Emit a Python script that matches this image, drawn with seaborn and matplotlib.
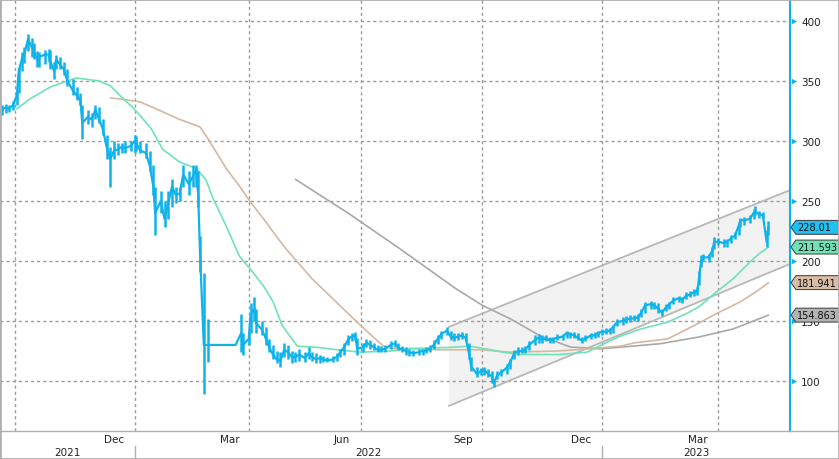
import matplotlib
matplotlib.use("Agg")
import matplotlib.pyplot as plt
import matplotlib.transforms as mtransforms
from matplotlib.patches import Polygon, Rectangle
from matplotlib.lines import Line2D
import seaborn as sns

# ---------------- data ----------------
# x axis = trading session number
session = [1, 3, 5, 7, 9, 10, 12, 13, 15, 17,
           18, 20, 21, 24, 26, 27, 29, 30, 32, 34,
           36, 39, 41, 43, 44, 47, 49, 51, 53, 55,
           57, 59, 61, 63, 65, 67, 70, 72, 73, 75,
           78, 80, 82, 83, 86, 88, 90, 92, 94, 96,
           98, 101, 103, 105, 106, 107, 109, 111, 115, 120,
           126, 129, 130, 133, 134, 136, 137, 140, 142, 144,
           146, 148, 150, 152, 154, 156, 158, 160, 163, 165,
           167, 169, 171, 173, 175, 178, 180, 182, 184, 186,
           188, 190, 191, 194, 196, 198, 200, 202, 204, 206,
           209, 211, 213, 215, 217, 219, 221, 224, 226, 228,
           230, 232, 234, 236, 239, 241, 243, 245, 247, 249,
           251, 252, 255, 257, 259, 261, 263, 264, 266, 268,
           271, 273, 275, 277, 279, 281, 283, 286, 288, 290,
           292, 294, 296, 298, 301, 303, 305, 307, 309, 311,
           313, 316, 318, 320, 322, 324, 326, 328, 330, 333,
           335, 337, 339, 341, 343, 345, 348, 350, 352, 354,
           356, 358, 360, 363, 365, 367, 369, 371, 373, 374,
           375, 376, 379, 381, 382, 384, 387, 389, 391, 393,
           395, 396, 398, 401, 403, 404, 406, 408, 410, 411]
close = [326, 328, 327, 330, 338, 358, 370, 372, 385, 378,
         375, 368, 370, 372, 372, 366, 358, 368, 364, 360,
         350, 342, 338, 334, 315, 320, 318, 326, 318, 310,
         295, 285, 292, 293, 295, 294, 296, 300, 298, 292,
         290, 280, 262, 240, 250, 235, 248, 262, 255, 256,
         272, 264, 270, 276, 255, 205, 130, 130, 130, 130,
         130, 140, 130, 135, 155, 160, 148, 143, 136, 128,
         122, 118, 117, 126, 124, 120, 120, 122, 119, 123,
         120, 118, 119, 118, 117, 118, 120, 124, 128, 134,
         137, 138, 127, 128, 132, 130, 128, 126, 126, 127,
         130, 131, 128, 126, 125, 124, 123, 124, 125, 125,
         127, 130, 135, 139, 142, 137, 136, 137, 138, 136,
         122, 112, 106, 108, 109, 106, 104, 98, 105, 107,
         111, 116, 123, 125, 125, 126, 130, 134, 136, 135,
         135, 134, 135, 136, 137, 140, 139, 138, 136, 134,
         135, 138, 138, 140, 141, 141, 142, 145, 149, 150,
         151, 152, 152, 153, 157, 163, 164, 163, 160, 157,
         161, 164, 167, 169, 168, 171, 172, 174, 175, 188,
         200, 203, 203, 209, 216, 216, 215, 216, 219, 221,
         229, 234, 234, 235, 240, 241, 239, 238, 216, 228]
high = [330, 331, 330, 333, 342, 362, 374, 378, 389, 386,
        382, 375, 374, 376, 377, 376, 366, 372, 370, 366,
        360, 352, 345, 340, 330, 326, 323, 330, 328, 318,
        305, 295, 300, 298, 298, 300, 300, 305, 304, 300,
        298, 292, 280, 262, 258, 250, 258, 268, 262, 262,
        280, 275, 280, 280, 275, 221, 190, 152, 130, 130,
        130, 156, 140, 140, 165, 170, 160, 150, 145, 135,
        130, 125, 124, 132, 130, 125, 124, 127, 124, 128,
        124, 123, 122, 121, 120, 121, 123, 127, 132, 138,
        140, 141, 136, 132, 135, 134, 132, 130, 129, 130,
        133, 134, 132, 129, 128, 127, 126, 127, 127, 128,
        130, 134, 138, 142, 145, 142, 140, 140, 141, 140,
        132, 120, 112, 111, 112, 110, 108, 102, 108, 110,
        114, 118, 126, 128, 128, 129, 133, 138, 139, 138,
        138, 137, 137, 139, 139, 142, 141, 141, 140, 137,
        138, 140, 141, 142, 143, 144, 144, 147, 152, 153,
        154, 155, 155, 156, 160, 166, 167, 166, 165, 160,
        164, 166, 170, 171, 170, 174, 175, 177, 178, 192,
        205, 206, 206, 212, 220, 219, 218, 218, 222, 224,
        232, 236, 237, 238, 243, 246, 242, 241, 226, 233]
low = [322, 323, 324, 326, 330, 340, 358, 365, 375, 370,
       368, 362, 362, 364, 366, 360, 352, 360, 360, 355,
       346, 338, 334, 330, 302, 314, 312, 318, 315, 305,
       285, 262, 285, 288, 290, 290, 292, 290, 292, 290,
       286, 275, 255, 222, 240, 228, 235, 245, 248, 250,
       262, 255, 262, 262, 245, 191, 89, 116, 130, 130,
       130, 124, 122, 130, 140, 150, 140, 138, 130, 124,
       118, 115, 112, 120, 118, 115, 116, 117, 116, 118,
       117, 115, 115, 116, 116, 116, 117, 120, 122, 130,
       133, 134, 122, 124, 128, 127, 126, 124, 124, 124,
       127, 128, 126, 124, 122, 121, 121, 122, 122, 123,
       124, 127, 131, 135, 138, 134, 133, 134, 135, 133,
       118, 108, 103, 105, 105, 103, 98, 95, 102, 104,
       106, 110, 118, 122, 123, 123, 126, 130, 132, 132,
       133, 132, 132, 134, 134, 136, 136, 136, 134, 132,
       133, 135, 136, 137, 138, 139, 139, 140, 146, 147,
       148, 149, 150, 150, 153, 157, 160, 160, 157, 154,
       158, 160, 164, 166, 165, 168, 170, 171, 172, 180,
       195, 200, 199, 203, 210, 213, 212, 212, 215, 218,
       222, 228, 230, 232, 235, 238, 236, 236, 212, 222]

# moving averages
ma_fast_session = [9, 16, 27, 36, 41, 48, 53, 59, 66, 71,
                   75, 81, 87, 96, 105, 110, 114, 121, 128, 134,
                   141, 146, 151, 159, 170, 180, 193, 209, 219, 230,
                   241, 251, 257, 269, 278, 299, 314, 325, 332, 342,
                   357, 367, 374, 383, 392, 401, 406, 411]
ma_fast_value = [326.7, 335, 345, 350, 352.5, 351, 350, 346, 335, 328,
                 321, 310, 293, 282.5, 277, 268, 252, 229, 204, 193,
                 179, 166, 146, 129, 128, 126, 124, 125, 127, 127.5,
                 128, 129, 127.5, 124, 122, 122, 124, 132.5, 137.5, 143,
                 149, 156, 162, 174, 185, 199, 206, 211.593]
ma_mid_session = [59, 64, 75, 86, 96, 107, 112, 121, 128, 134,
                  141, 150, 153, 167, 182, 193, 205, 209, 219, 234,
                  251, 257, 273, 299, 314, 332, 339, 357, 371, 383,
                  396, 405, 411]
ma_mid_value = [335.8, 335, 332.5, 325, 318, 311.7, 300, 277, 262.5, 249,
                235, 216, 210, 185, 162.5, 146, 129, 127, 127, 126,
                126, 126, 124, 125, 126.7, 129, 131.7, 135, 146, 156,
                166, 175, 181.941]
ma_slow_session = [158, 187, 214, 244, 258, 273, 289, 305, 321, 353, 374, 392, 411]
ma_slow_value = [268, 239, 210, 176.7, 163, 151.7, 137.5, 128.3, 126.7, 131, 136.7, 143.3, 154.863]

# trend channel
channel_session = [240, 422.5]
channel_upper = [145, 259]
channel_lower = [79.2, 197.5]

# axis labelling
month_starts = [8, 29, 50, 72, 93, 113, 133, 154, 172, 193, 214, 237, 258,
                280, 300, 322, 343, 362, 384, 403]
quarter_starts = [8, 72, 133, 193, 258, 322, 384]
month_label_spans = [(50, 72), (113, 133), (172, 193), (237, 258), (300, 322), (362, 384)]
month_labels = ["Dec", "Mar", "Jun", "Sep", "Dec", "Mar"]
year_spans = [(0, 72), (72, 322), (322, 422.5)]
year_labels = ["2021", "2022", "2023"]
y_ticks = [100, 150, 200, 250, 300, 350, 400]

last_values = [228.01, 211.593, 181.941, 154.863]
last_texts = ["228.01", "211.593", "181.941", "154.863"]

# ---------------- styling ----------------
sns.set_style("white")
plt.rcParams['font.family'] = ['DejaVu Sans']

CYAN = "#0fb3ea"
GREEN = "#6fe3b5"
TAN = "#d6b8a0"
GRAY_MA = "#a9a9a9"
GRID = "#9a9a9a"
FRAME = "#b0b0b0"
box_colors = ["#22c0f0", "#6fe3b5", "#d9bda7", "#b3b3b3"]

fig = plt.figure(figsize=(8.39, 4.6), dpi=100)
ax = fig.add_axes([0.0, 28 / 460, 790 / 839, 432 / 460])

XMAX = 422.5
ax.set_xlim(0, XMAX)
ax.set_ylim(58.3, 418.3)

# grid
for q in quarter_starts:
    ax.axvline(q, color=GRID, lw=1.0, ls=(0, (2.2, 2.2)), zorder=0.5)
for yv in y_ticks:
    ax.axhline(yv, color=GRID, lw=1.0, ls=(0, (2.2, 2.2)), zorder=0.5)

# channel
poly = Polygon([(channel_session[0], channel_upper[0]), (channel_session[1], channel_upper[1]),
                (channel_session[1], channel_lower[1]), (channel_session[0], channel_lower[0])],
               closed=True, facecolor="#f2f2f2", edgecolor="none", zorder=0.3)
ax.add_patch(poly)
sns.lineplot(x=channel_session, y=channel_upper, ax=ax, color="#b8b8b8", lw=1.3, zorder=1)
sns.lineplot(x=channel_session, y=channel_lower, ax=ax, color="#b8b8b8", lw=1.3, zorder=1)

# moving averages
sns.lineplot(x=ma_slow_session, y=ma_slow_value, ax=ax, color=GRAY_MA, lw=1.2, zorder=2)
sns.lineplot(x=ma_mid_session, y=ma_mid_value, ax=ax, color=TAN, lw=1.2, zorder=2)
sns.lineplot(x=ma_fast_session, y=ma_fast_value, ax=ax, color=GREEN, lw=1.2, zorder=2)

# price: high-low ranges + close path
ax.vlines(session, low, high, color=CYAN, lw=1.8, zorder=3)
sns.lineplot(x=session, y=close, ax=ax, color=CYAN, lw=1.6, zorder=3,
             estimator=None, sort=False)

# spines
for side in ["top", "left", "bottom"]:
    ax.spines[side].set_color(FRAME)
    ax.spines[side].set_linewidth(1.0)
ax.spines["right"].set_color(CYAN)
ax.spines["right"].set_linewidth(1.5)

# y axis on right
ax.yaxis.tick_right()
ax.set_yticks(y_ticks)
ax.set_yticklabels([str(v) for v in y_ticks])
ax.tick_params(axis="y", length=0, pad=8, labelsize=7.5, labelcolor="#222222",
               labelright=True, labelleft=False)
tr_y = mtransforms.blended_transform_factory(ax.transAxes, ax.transData)
ax.scatter([1.0045] * len(y_ticks), y_ticks, transform=tr_y, marker=">", s=16,
           color=CYAN, clip_on=False, zorder=6, linewidths=0)

# x axis: month boundary ticks, month labels (minor), years
ax.set_xticks(month_starts)
ax.set_xticklabels([""] * len(month_starts))
ax.tick_params(axis="x", which="major", length=4, width=0.8, color=FRAME, direction="out")
mids = [(a + b) / 2 for a, b in month_label_spans]
ax.set_xticks(mids, minor=True)
ax.set_xticklabels(month_labels, minor=True)
ax.tick_params(axis="x", which="minor", length=0, pad=2.5, labelsize=7.5, labelcolor="#222222")
ax.set_xlabel("")
ax.set_ylabel("")

tr_x = mtransforms.blended_transform_factory(ax.transData, ax.transAxes)
for (a, b), lab in zip(year_spans, year_labels):
    ax.text((a + b) / 2, -0.049, lab, transform=tr_x, ha="center", va="center",
            fontsize=7.5, color="#222222")
for a, b in year_spans[1:]:
    ax.add_line(Line2D([a, a], [-0.034, -0.07], transform=tr_x, color=FRAME, lw=1.0,
                       clip_on=False))

# last-value tags
dy = 5.8
for val, txt, col in zip(last_values, last_texts, box_colors):
    x0, x1, x2 = 1.0012, 1.0075, 1.0 + 49 / 790
    pts = [(x0, val), (x1, val + dy), (x2, val + dy), (x2, val - dy), (x1, val - dy)]
    ax.add_patch(Polygon(pts, closed=True, transform=tr_y, facecolor=col,
                         edgecolor="#3a3a3a", lw=0.7, clip_on=False, zorder=7))
    ax.text(1.0 + 7 / 790, val, txt, transform=tr_y, ha="left", va="center",
            fontsize=7, color="#111111", zorder=8, clip_on=False)

# outer frame of the figure
fig.add_artist(Rectangle((0, 0), 1, 1, transform=fig.transFigure, fill=False,
                         edgecolor=FRAME, lw=2.0))
fig.add_artist(Line2D([790 / 839, 1], [28 / 460, 28 / 460], transform=fig.transFigure,
                      color=FRAME, lw=1.0))

fig.savefig("out.png", dpi=100)
